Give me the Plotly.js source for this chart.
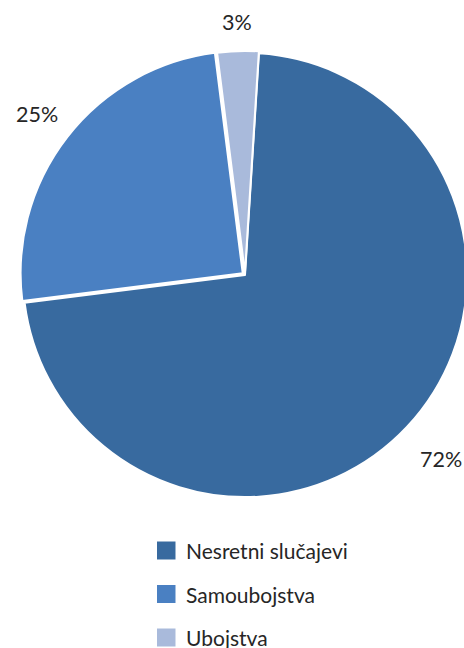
<!DOCTYPE html>
<html><head><meta charset="utf-8">
<script src="https://cdn.plot.ly/plotly-3.0.1.min.js"></script>
<style>html,body{margin:0;padding:0;overflow:hidden;background:#fff}</style>
</head><body><div id="chart"></div>
<script>
// ---- data ----
const labels = ['Nesretni slučajevi', 'Samoubojstva', 'Ubojstva'];
const values = [72, 25, 3];
const colors = ['#386A9F', '#4A80C2', '#A9BADB'];
const pulls = [0, 0.013, 0.009];

// ---- geometry / style ----
const W = 471, H = 648;
const M = {l: 20, r: 1, t: 50, b: 148};
const PW = W - M.l - M.r, PH = H - M.t - M.b;
const CX = M.l + PW / 2, CY = M.t + PH / 2;
const maxPull = Math.max(...pulls);
const R = Math.min(PW, PH) / 2 / (1 + maxPull);
const ROT = 3.6;
const labelRadius = [1.21, 1.185, 1.14];
const FONT = 'Lato, "Open Sans", sans-serif';
const TXT = '#262626';

function px2x(px) { return (px - M.l) / PW; }
function py2y(py) { return 1 - (py - M.t) / PH; }

const total = values.reduce((a, b) => a + b, 0);
const annotations = [];
const shapes = [];
let cum = 0;
values.forEach((v, i) => {
  const mid = (ROT + 360 * (cum + v / 2) / total) * Math.PI / 180;
  cum += v;
  const rr = R * labelRadius[i];
  const px = CX + rr * Math.sin(mid);
  const py = CY - rr * Math.cos(mid);
  annotations.push({
    xref: 'paper', yref: 'paper', x: px2x(px), y: py2y(py),
    text: Math.round(100 * v / total) + '%', showarrow: false,
    xanchor: 'center', yanchor: 'middle',
    font: {family: FONT, size: 21.5, color: TXT}
  });
});

// custom legend
const legRows = [550.5, 594, 637.5];
labels.forEach((lab, i) => {
  const yc = legRows[i];
  shapes.push({
    type: 'rect', xref: 'paper', yref: 'paper',
    x0: px2x(157), x1: px2x(175.5), y0: py2y(yc - 9), y1: py2y(yc + 9),
    fillcolor: colors[i], line: {width: 0}
  });
  annotations.push({
    xref: 'paper', yref: 'paper', x: px2x(184), y: py2y(yc),
    text: lab, showarrow: false, xanchor: 'left', yanchor: 'middle',
    font: {family: FONT, size: 21, color: TXT}
  });
});

const trace = {
  type: 'pie',
  labels: labels,
  values: values,
  sort: false,
  direction: 'clockwise',
  rotation: ROT,
  pull: pulls,
  marker: {colors: colors, line: {color: '#ffffff', width: 2}},
  textinfo: 'none',
  hoverinfo: 'label+percent',
  showlegend: false
};

const layout = {
  width: W, height: H,
  margin: M,
  paper_bgcolor: '#ffffff',
  plot_bgcolor: '#ffffff',
  showlegend: false,
  annotations: annotations,
  shapes: shapes
};

Plotly.newPlot('chart', [trace], layout, {displayModeBar: false, staticPlot: true});
</script>
</body></html>
